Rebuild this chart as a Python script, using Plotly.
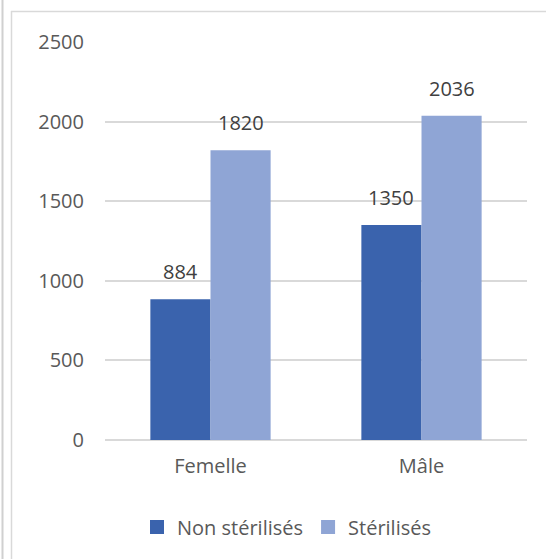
import plotly.graph_objects as go

categories = ["Femelle", "Mâle"]
non_sterilises = [884, 1350]
sterilises = [1820, 2036]
series_names = ["Non stérilisés", "Stérilisés"]
colors = ["#3A63AD", "#8FA5D5"]
y_ticks = [0, 500, 1000, 1500, 2000, 2500]

W, H = 546, 559
L, R, T, B = 105, 19, 42, 119
pw, ph = W - L - R, H - T - B

def px(x):
    return (x - L) / pw

def py(y):
    return (H - B - y) / ph

FONT = "Open Sans"

fig = go.Figure()
for name, vals, col in zip(series_names, [non_sterilises, sterilises], colors):
    fig.add_trace(go.Bar(x=categories, y=vals, name=name, marker_color=col,
                         marker_line_width=0, showlegend=False))
# legend entries with larger square swatches
for name, col in zip(series_names, colors):
    fig.add_trace(go.Scatter(x=[None], y=[None], mode="markers", name=name,
                             marker=dict(symbol="square", size=14, color=col),
                             showlegend=True))

annotations = []
offsets = [-0.1425, 0.1425]
for vals, off in zip([non_sterilises, sterilises], offsets):
    for i, v in enumerate(vals):
        annotations.append(dict(x=i + off, y=v, xref="x", yref="y", text=str(v),
                                showarrow=False, yanchor="bottom", yshift=12,
                                font=dict(family=FONT, size=20, color="#404040")))

shapes = [
    dict(type="line", xref="paper", yref="paper", x0=px(11), x1=px(W + 5), y0=py(11.5), y1=py(11.5),
         line=dict(color="#D9D9D9", width=1.5)),
    dict(type="line", xref="paper", yref="paper", x0=px(11.5), x1=px(11.5), y0=py(11), y1=py(H + 5),
         line=dict(color="#D9D9D9", width=1.5)),
    dict(type="line", xref="paper", yref="paper", x0=px(2.5), x1=px(2.5), y0=py(-5), y1=py(H + 5),
         line=dict(color="#D0D0D0", width=2)),
]

fig.update_layout(
    width=W, height=H,
    margin=dict(l=L, r=R, t=T, b=B),
    paper_bgcolor="white", plot_bgcolor="white",
    barmode="group", bargap=0.43, bargroupgap=0,
    font=dict(family=FONT, size=20, color="#595959"),
    showlegend=True,
    legend=dict(orientation="h", x=px(287), xanchor="center", y=py(527), yanchor="middle",
                font=dict(family=FONT, size=20, color="#595959"),
                itemwidth=30, tracegroupgap=0),
    annotations=annotations,
    shapes=shapes,
    xaxis=dict(type="category", showgrid=False, showline=False, ticks="",
               ticklabelstandoff=12, tickfont=dict(family=FONT, size=20, color="#595959"),
               range=[-0.5, 1.5]),
    yaxis=dict(range=[0, 2500], tickvals=y_ticks, showgrid=True, gridcolor="#D9D9D9",
               gridwidth=1.5, zeroline=True, zerolinecolor="#D9D9D9", zerolinewidth=1.5,
               showline=False, ticks="", ticklabelstandoff=20,
               tickfont=dict(family=FONT, size=20, color="#595959")),
)

fig.write_html("out.html")
